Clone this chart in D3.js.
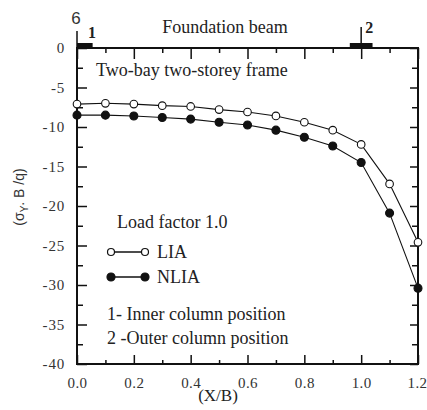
<!DOCTYPE html>
<html><head><meta charset="utf-8">
<script src="https://cdn.jsdelivr.net/npm/d3@7"></script>
<style>body{margin:0;background:#fff}</style>
</head><body><svg id="c" width="427" height="410"></svg>
<script>
const xVals = [0, 0.1, 0.2, 0.3, 0.4, 0.5, 0.6, 0.7, 0.8, 0.9, 1.0, 1.1, 1.2];
const liaVals = [-7.1, -7.0, -7.1, -7.3, -7.4, -7.8, -8.1, -8.6, -9.4, -10.4, -12.2, -17.2, -24.6];
const nliaVals = [-8.5, -8.5, -8.6, -8.8, -9.0, -9.4, -9.75, -10.4, -11.3, -12.4, -14.5, -20.9, -30.4];
const xTicks = [0, 0.2, 0.4, 0.6, 0.8, 1.0, 1.2];
const yTicks = [0, -5, -10, -15, -20, -25, -30, -35, -40];
const columnPos = [0, 1.0];
const columnLabels = ["1", "2"];

const SERIF = '"Liberation Serif","Times New Roman",serif';
const svg = d3.select("#c");
const x = d3.scaleLinear().domain([0, 1.2]).range([77, 418]);
const y = d3.scaleLinear().domain([0, -40]).range([48, 364]);

const minorX = d3.range(0, 13).map(i => i / 10).filter((d, i) => i % 2);
const minorY = d3.range(0, 17).map(i => -i * 2.5).filter((d, i) => i % 2);

function ax(gen, tx, ty, vals, size, fmt, pad) {
  const a = gen.tickValues(vals).tickSize(size).tickFormat(fmt || "");
  if (pad !== undefined) a.tickPadding(pad);
  return svg.append("g").attr("transform", `translate(${tx},${ty})`).call(a);
}
const gx = ax(d3.axisBottom(x), 0, y(-40), xTicks, -9, d3.format(".1f"), 13);
ax(d3.axisBottom(x), 0, y(-40), minorX, -4);
ax(d3.axisTop(x), 0, y(0), xTicks, -11);
ax(d3.axisTop(x), 0, y(0), minorX, -5);
const gy = ax(d3.axisLeft(y), x(0), 0, yTicks, -10, d => String(d), 12);
ax(d3.axisLeft(y), x(0), 0, minorY, -6);
ax(d3.axisRight(y), x(1.2), 0, yTicks, -8);
ax(d3.axisRight(y), x(1.2), 0, minorY, -6);

svg.selectAll(".domain").remove();
svg.selectAll(".tick line").attr("stroke", "#111").attr("stroke-width", 1.5);
svg.selectAll(".tick text").attr("font-size", 15).attr("font-family", SERIF).attr("fill", "#333");
gy.selectAll(".tick text").attr("letter-spacing", 0.8);
gx.selectAll(".tick text").attr("letter-spacing", 0.4);
gx.selectAll(".tick text").filter(d => d === 1.2).attr("text-anchor", "end").attr("x", 9);

svg.append("rect").attr("x", x(0)).attr("y", y(0)).attr("width", x(1.2) - x(0)).attr("height", y(-40) - y(0))
  .attr("fill", "none").attr("stroke", "#111").attr("stroke-width", 2);

function txt(xx, yy, s, size, anchor) {
  return svg.append("text").attr("x", xx).attr("y", yy).attr("font-size", size || 18)
    .attr("font-family", SERIF).attr("fill", "#222").attr("text-anchor", anchor || "start").text(s);
}

// column markers
columnPos.forEach((p, i) => {
  const w = i === 0 ? [p, p + 0.055] : [p - 0.04, p + 0.04];
  svg.append("rect").attr("x", x(w[0])).attr("y", y(0) - 5).attr("width", x(w[1]) - x(w[0])).attr("height", 5).attr("fill", "#111");
  svg.append("line").attr("x1", x(p)).attr("x2", x(p)).attr("y1", y(0)).attr("y2", i === 0 ? 31 : 27).attr("stroke", "#111").attr("stroke-width", 1.5);
  txt(x(p) + (i === 0 ? 11 : 4), i === 0 ? 38 : 33, columnLabels[i], 16, "start").attr("font-weight", "bold");
});
txt(76, 24, "6", 17, "middle").attr("font-family", '"Liberation Sans",sans-serif').attr("fill", "#333");
txt(225, 33, "Foundation beam", 18, "middle");
txt(96, 76, "Two-bay two-storey frame", 18);

// series
const line = d3.line().x(d => x(d[0])).y(d => y(d[1]));
const series = [
  { vals: liaVals, fill: "#fff", r: 3.8 },
  { vals: nliaVals, fill: "#111", r: 4 }
];
series.forEach(s => {
  const pts = xVals.map((v, i) => [v, s.vals[i]]);
  svg.append("path").datum(pts).attr("d", line).attr("fill", "none").attr("stroke", "#111").attr("stroke-width", 1.1);
  svg.selectAll(null).data(pts).enter().append("circle")
    .attr("cx", d => x(d[0])).attr("cy", d => y(d[1])).attr("r", s.r)
    .attr("fill", s.fill).attr("stroke", "#111").attr("stroke-width", 1.1);
});

// legend
txt(117, 228, "Load factor 1.0", 18);
const legend = [{ label: "LIA", fill: "#fff", yy: 252, r: 3.5 }, { label: "NLIA", fill: "#111", yy: 277, r: 4 }];
legend.forEach(l => {
  svg.append("line").attr("x1", 111).attr("x2", 145).attr("y1", l.yy).attr("y2", l.yy).attr("stroke", "#111").attr("stroke-width", 1.4);
  [111, 145].forEach(cx => svg.append("circle").attr("cx", cx).attr("cy", l.yy).attr("r", l.r)
    .attr("fill", l.fill).attr("stroke", "#111").attr("stroke-width", 1.2));
  txt(157, l.yy + 6, l.label, 18);
});
txt(107, 320, "1- Inner column position", 18);
txt(107, 344, "2 -Outer column position", 18);

// axis titles
txt(218, 401, "(X/B)", 17, "middle");
const yt = svg.append("text").attr("transform", "translate(24,197) rotate(-90)").attr("text-anchor", "middle")
  .attr("font-size", 14).attr("font-family", '"Liberation Sans",sans-serif').attr("fill", "#333");
yt.append("tspan").text("(σ");
yt.append("tspan").attr("font-size", 10).attr("dy", 4).text("Y");
yt.append("tspan").attr("dy", -4).text(". B /q)");
</script></body></html>
